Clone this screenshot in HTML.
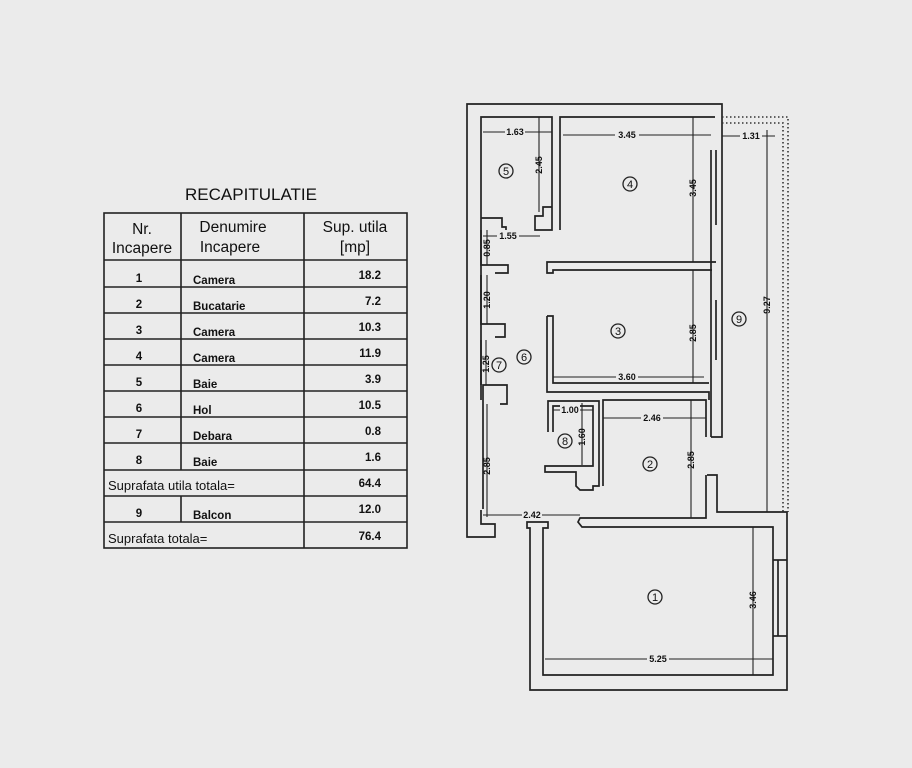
<!DOCTYPE html>
<html><head><meta charset="utf-8"><style>
html,body{margin:0;padding:0;background:#ebebeb;}
svg{display:block}
text{font-family:"Liberation Sans",Arial,sans-serif;fill:#111}
</style></head><body>
<svg width="912" height="768" viewBox="0 0 912 768" xmlns="http://www.w3.org/2000/svg">
<rect width="912" height="768" fill="#ebebeb"/>
<!-- Table -->
<text x="251" y="200" font-size="17" text-anchor="middle">RECAPITULATIE</text>
<g stroke="#222" stroke-width="1.6" fill="none">
<rect x="104" y="213" width="303" height="335"/>
<line x1="181" y1="213" x2="181" y2="470"/>
<line x1="181" y1="496" x2="181" y2="522"/>
<line x1="304" y1="213" x2="304" y2="548"/>
<line x1="104" y1="260" x2="407" y2="260"/>
<line x1="104" y1="287" x2="407" y2="287"/>
<line x1="104" y1="313" x2="407" y2="313"/>
<line x1="104" y1="339" x2="407" y2="339"/>
<line x1="104" y1="365" x2="407" y2="365"/>
<line x1="104" y1="391" x2="407" y2="391"/>
<line x1="104" y1="417" x2="407" y2="417"/>
<line x1="104" y1="443" x2="407" y2="443"/>
<line x1="104" y1="470" x2="407" y2="470"/>
<line x1="104" y1="496" x2="407" y2="496"/>
<line x1="104" y1="522" x2="407" y2="522"/>
</g>
<g font-size="15.5" text-anchor="middle">
<text x="142" y="234">Nr.</text><text x="142" y="253">Incapere</text>
<text x="233" y="232">Denumire</text><text x="230" y="252">Incapere</text>
<text x="355" y="232">Sup. utila</text><text x="355" y="252">[mp]</text>
</g>
<g font-size="11.5" font-weight="bold">
<g text-anchor="middle">
<text x="139" y="282">1</text><text x="139" y="308">2</text><text x="139" y="334">3</text><text x="139" y="360">4</text>
<text x="139" y="386">5</text><text x="139" y="412">6</text><text x="139" y="438">7</text><text x="139" y="464">8</text><text x="139" y="517">9</text>
</g>
<text x="193" y="284">Camera</text><text x="193" y="310">Bucatarie</text><text x="193" y="336">Camera</text><text x="193" y="362">Camera</text>
<text x="193" y="388">Baie</text><text x="193" y="414">Hol</text><text x="193" y="440">Debara</text><text x="193" y="466">Baie</text><text x="193" y="519">Balcon</text>
<g text-anchor="end">
<text x="381" y="279">18.2</text><text x="381" y="305">7.2</text><text x="381" y="331">10.3</text><text x="381" y="357">11.9</text>
<text x="381" y="383">3.9</text><text x="381" y="409">10.5</text><text x="381" y="435">0.8</text><text x="381" y="461">1.6</text>
<text x="381" y="487">64.4</text><text x="381" y="513">12.0</text><text x="381" y="540">76.4</text>
</g>
</g>
<text x="108" y="490" font-size="13">Suprafata utila totala=</text>
<text x="108" y="543" font-size="13">Suprafata totala=</text>

<!-- Floor plan -->
<g stroke="#222" stroke-width="1.7" fill="none">
<polyline points="722,144 722,104 467,104 467,537 495,537 495,524 481,524 481,510"/>
<polyline points="483,509 483,385 507,385 507,404 500,404"/>
<polyline points="481,400 481,117 552,117 552,230 535,230 535,216 543,216 543,207 552,207"/>
<polyline points="481,218 502,218 502,227 506,227 506,230"/>
<polyline points="560,230 560,117 715,117"/>
<polyline points="481,230 481,265 508,265 508,273 495,273"/>
<polyline points="481,275 481,324 505,324 505,337 495,337"/>
<polyline points="481,340 481,385"/>
<polyline points="716,262 547,262 547,273 553,273 553,270 712,270"/>
<polyline points="722,144 722,437 711,437"/>
<line x1="711" y1="150" x2="711" y2="437"/>
<line x1="716" y1="150" x2="716" y2="225"/>
<line x1="716" y1="300" x2="716" y2="360"/>
<polyline points="547,316 553,316 553,383 709,383"/>
<polyline points="547,316 547,392 709,392 709,400"/>
<polyline points="548,432 548,401 599,401 599,486 593,486 593,490 580,490 576,486 576,472 545,472 545,466 593,466 593,406 553,406 553,432"/>
<polyline points="603,486 603,400 706,400 706,437"/>
<polyline points="707,475 717,475 717,512 787,512 787,690 530,690 530,528 527,528 527,522 548,522 548,528 543,528 543,675 773,675 773,527 582,527 578,522 580,518 706,518 706,475"/>
<line x1="773" y1="560" x2="787" y2="560"/><line x1="773" y1="636" x2="787" y2="636"/>
<line x1="778" y1="560" x2="778" y2="636"/>
</g>
<g stroke="#333" stroke-width="1.6" stroke-dasharray="1.5,2.5" fill="none">
<polyline points="722,117 788,117 788,512"/>
<polyline points="722,123 783,123 783,512"/>
</g>
<g stroke="#222" stroke-width="1.1" fill="none">
<line x1="483" y1="132" x2="552" y2="132"/><line x1="539" y1="117" x2="539" y2="212"/>
<line x1="563" y1="135" x2="711" y2="135"/><line x1="693" y1="117" x2="693" y2="262"/>
<line x1="722" y1="136" x2="775" y2="136"/><line x1="767" y1="130" x2="767" y2="512"/>
<line x1="483" y1="236" x2="540" y2="236"/><line x1="487" y1="230" x2="487" y2="265"/>
<line x1="487" y1="275" x2="487" y2="324"/><line x1="486" y1="340" x2="486" y2="385"/>
<line x1="553" y1="377" x2="704" y2="377"/><line x1="693" y1="270" x2="693" y2="383"/>
<line x1="553" y1="410" x2="593" y2="410"/><line x1="582" y1="403" x2="582" y2="465"/>
<line x1="603" y1="418" x2="706" y2="418"/><line x1="691" y1="400" x2="691" y2="518"/>
<line x1="487" y1="404" x2="487" y2="517"/><line x1="483" y1="515" x2="580" y2="515"/>
<line x1="545" y1="659" x2="773" y2="659"/><line x1="753" y1="527" x2="753" y2="675"/>
</g>
<g font-size="9" font-weight="bold" text-anchor="middle">
<g fill="#ebebeb" stroke="none">
<rect x="505" y="127" width="20" height="10"/><rect x="615" y="130" width="24" height="10"/>
<rect x="740" y="131" width="22" height="10"/><rect x="497" y="231" width="22" height="10"/>
<rect x="616" y="372" width="22" height="10"/><rect x="560" y="405" width="20" height="10"/>
<rect x="641" y="413" width="22" height="10"/><rect x="522" y="510" width="20" height="10"/>
<rect x="647" y="654" width="22" height="10"/>
</g>
<text x="515" y="135">1.63</text><text x="627" y="138">3.45</text><text x="751" y="139">1.31</text>
<text x="508" y="239">1.55</text><text x="627" y="380">3.60</text><text x="570" y="413">1.00</text>
<text x="652" y="421">2.46</text><text x="532" y="518">2.42</text><text x="658" y="662">5.25</text>
<text transform="translate(539,165) rotate(-90)" x="0" y="3">2.45</text>
<text transform="translate(693,188) rotate(-90)" x="0" y="3">3.45</text>
<text transform="translate(767,305) rotate(-90)" x="0" y="3">9.27</text>
<text transform="translate(487,248) rotate(-90)" x="0" y="3">0.85</text>
<text transform="translate(487,300) rotate(-90)" x="0" y="3">1.20</text>
<text transform="translate(486,364) rotate(-90)" x="0" y="3">1.25</text>
<text transform="translate(693,333) rotate(-90)" x="0" y="3">2.85</text>
<text transform="translate(582,437) rotate(-90)" x="0" y="3">1.60</text>
<text transform="translate(691,460) rotate(-90)" x="0" y="3">2.85</text>
<text transform="translate(487,466) rotate(-90)" x="0" y="3">2.85</text>
<text transform="translate(753,600) rotate(-90)" x="0" y="3">3.46</text>
</g>
<g stroke="#222" stroke-width="1.3" fill="none">
<circle cx="506" cy="171" r="7"/><circle cx="630" cy="184" r="7"/><circle cx="618" cy="331" r="7"/>
<circle cx="739" cy="319" r="7"/><circle cx="524" cy="357" r="7"/><circle cx="499" cy="365" r="7"/>
<circle cx="565" cy="441" r="7"/><circle cx="650" cy="464" r="7"/><circle cx="655" cy="597" r="7"/>
</g>
<g font-size="11" text-anchor="middle">
<text x="506" y="175">5</text><text x="630" y="188">4</text><text x="618" y="335">3</text>
<text x="739" y="323">9</text><text x="524" y="361">6</text><text x="499" y="369">7</text>
<text x="565" y="445">8</text><text x="650" y="468">2</text><text x="655" y="601">1</text>
</g>
</svg>
</body></html>
